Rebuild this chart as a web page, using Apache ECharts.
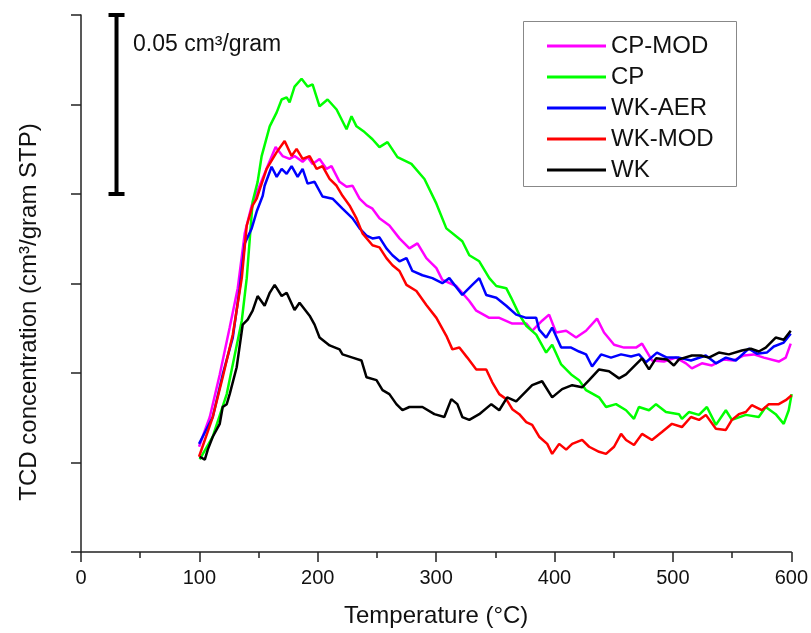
<!DOCTYPE html>
<html>
<head>
<meta charset="utf-8">
<script src="https://cdn.jsdelivr.net/npm/echarts@6.0.0/dist/echarts.min.js"></script>
<style>
  html, body { margin: 0; padding: 0; background: #fff; }
  #chart { width: 811px; height: 633px; }
</style>
</head>
<body>
<div id="chart"></div>
<script>
// TPD curves, [temperature °C, TCD signal in 1e-3 cm3/gram]
var cpModData = [
  [99.7, 29.4], [108.8, 37.7], [117.2, 49.6], [125.6, 62.7], [132.4, 73.7], [138.3, 89.0], [144.2, 96.8],
  [150.9, 102.3], [157.7, 107.8], [164.4, 113.1], [170.3, 110.6], [176.2, 109.8], [180.4, 110.6], [187.2, 109.0],
  [191.4, 110.3], [195.6, 108.4], [201.5, 109.8], [207.4, 107.0], [211.6, 107.8], [218.4, 103.4], [224.3, 102.0],
  [229.4, 102.3], [235.3, 98.7], [241.2, 96.8], [246.2, 95.9], [252.1, 93.2], [260.5, 91.2], [269.0, 87.6],
  [277.4, 84.8], [284.2, 86.2], [291.7, 82.1], [300.2, 79.3], [305.2, 76.0], [317.0, 74.3], [328.0, 70.1],
  [333.9, 67.4], [344.9, 65.4], [353.3, 65.4], [364.3, 63.8], [376.1, 63.8], [381.1, 61.8], [389.5, 64.6],
  [395.4, 66.3], [401.3, 61.3], [409.8, 61.8], [418.2, 59.9], [426.6, 61.8], [435.9, 65.2], [441.8, 61.3],
  [450.3, 57.9], [458.7, 57.1], [468.8, 57.1], [473.9, 58.2], [482.3, 53.5], [492.4, 53.2], [502.5, 54.3],
  [511.0, 52.7], [516.0, 51.3], [524.5, 52.7], [532.9, 52.1], [543.0, 53.8], [551.5, 53.5], [559.9, 54.9],
  [568.3, 55.2], [576.8, 54.3], [589.4, 53.2], [595.3, 54.3], [599.5, 58.2]
];
var cpData = [
  [100.3, 25.9], [111.3, 32.2], [123.1, 44.1], [128.2, 52.4], [135.8, 64.6], [140.0, 76.5], [145.0, 97.9],
  [149.2, 103.4], [152.6, 110.6], [159.4, 118.9], [165.3, 122.8], [169.5, 126.4], [173.7, 127.0], [176.2, 125.6],
  [180.4, 130.0], [186.3, 132.2], [191.4, 130.0], [195.6, 130.6], [201.5, 124.5], [208.3, 126.4], [215.9, 123.6],
  [224.3, 118.1], [228.5, 121.7], [232.7, 118.9], [239.5, 117.3], [246.2, 115.3], [252.1, 113.1], [258.9, 114.5],
  [267.3, 110.3], [279.1, 108.4], [290.1, 104.2], [300.2, 97.3], [308.6, 90.4], [322.1, 86.8], [328.0, 82.9],
  [336.4, 81.2], [344.9, 76.5], [350.8, 74.3], [359.2, 73.7], [363.4, 71.0], [370.2, 66.3], [376.1, 63.2],
  [384.5, 60.7], [392.9, 55.7], [398.0, 57.9], [405.6, 52.4], [414.0, 49.6], [420.7, 48.0], [426.6, 45.2],
  [437.6, 43.2], [443.5, 40.5], [451.9, 41.3], [460.4, 39.6], [467.1, 37.2], [471.3, 40.5], [479.8, 39.6],
  [485.7, 41.3], [494.1, 39.1], [505.1, 38.5], [507.6, 37.2], [513.5, 39.1], [522.0, 38.3], [528.7, 40.5],
  [536.3, 35.5], [544.7, 39.6], [549.8, 36.9], [561.6, 38.3], [572.5, 37.7], [578.4, 40.5], [586.8, 38.5],
  [593.6, 35.8], [597.8, 39.6], [600.3, 44.1]
];
var wkAerData = [
  [99.7, 30.2], [111.3, 37.7], [119.7, 49.6], [128.2, 59.9], [134.1, 73.7], [138.3, 86.2], [144.2, 90.4],
  [148.4, 95.1], [153.5, 99.5], [155.1, 102.3], [161.0, 107.6], [165.3, 104.8], [169.5, 107.0], [173.7, 105.6],
  [177.9, 107.8], [183.0, 104.8], [187.2, 107.0], [191.4, 102.9], [197.3, 103.4], [204.0, 99.3], [212.5, 98.7],
  [220.9, 95.9], [229.4, 93.2], [235.3, 90.4], [241.2, 88.4], [246.2, 87.6], [252.1, 87.9], [258.0, 84.8],
  [263.1, 82.9], [269.0, 81.2], [274.9, 82.1], [279.9, 78.5], [288.4, 77.3], [296.8, 76.5], [305.2, 75.1],
  [311.1, 76.5], [322.1, 71.8], [330.5, 74.6], [336.4, 76.5], [342.3, 71.8], [350.8, 71.0], [359.2, 68.8],
  [367.6, 66.3], [376.1, 65.4], [384.5, 65.4], [387.0, 62.1], [392.9, 59.9], [398.0, 62.7], [405.6, 57.1],
  [414.0, 57.1], [420.7, 56.0], [426.6, 55.2], [431.7, 51.8], [439.3, 55.2], [447.7, 54.3], [456.2, 55.2],
  [464.6, 54.6], [471.3, 55.2], [477.2, 53.0], [486.5, 55.7], [494.9, 54.3], [505.1, 54.3], [515.2, 53.5],
  [527.8, 54.9], [536.3, 52.7], [544.7, 54.3], [553.1, 53.5], [564.1, 56.8], [570.9, 55.4], [579.3, 55.7],
  [585.2, 57.4], [593.6, 58.5], [599.5, 61.0]
];
var wkModData = [
  [99.7, 26.6], [111.3, 37.7], [119.7, 48.8], [128.2, 60.7], [135.8, 76.5], [140.0, 91.2], [145.0, 96.8],
  [148.4, 98.7], [156.8, 107.0], [165.3, 111.7], [172.0, 114.8], [177.9, 110.6], [182.1, 112.6], [187.2, 109.8],
  [193.1, 110.6], [199.0, 107.0], [204.0, 107.8], [210.0, 104.2], [215.9, 102.3], [220.9, 99.5], [226.8, 96.8],
  [232.7, 93.2], [237.8, 89.0], [246.2, 85.7], [252.1, 85.1], [258.0, 82.1], [263.1, 80.1], [269.0, 78.5],
  [274.9, 74.6], [283.3, 72.9], [291.7, 69.0], [300.2, 65.4], [308.6, 60.4], [313.7, 56.6], [319.6, 57.1],
  [326.3, 54.3], [333.9, 51.0], [342.3, 51.0], [347.4, 47.4], [353.3, 44.1], [359.2, 42.7], [364.3, 39.9],
  [370.2, 38.5], [376.1, 36.3], [381.1, 35.5], [387.0, 32.2], [393.8, 30.2], [398.0, 27.4], [403.9, 30.2],
  [409.8, 28.6], [414.9, 30.2], [423.3, 31.3], [429.2, 29.4], [437.6, 28.0], [443.5, 27.4], [450.3, 29.4],
  [456.2, 33.0], [460.4, 31.3], [467.1, 29.9], [473.9, 33.0], [482.3, 31.3], [490.7, 33.5], [499.2, 35.8],
  [507.6, 34.9], [515.2, 37.7], [522.0, 36.9], [527.8, 38.3], [536.3, 34.4], [544.7, 34.1], [549.8, 36.9],
  [555.7, 38.5], [561.6, 39.1], [566.6, 41.0], [575.1, 39.6], [581.0, 41.3], [589.4, 41.3], [595.3, 42.4],
  [600.3, 43.8]
];
var wkData = [
  [100.3, 26.6], [104.6, 25.8], [107.1, 28.6], [111.3, 32.2], [117.2, 35.8], [119.7, 40.5], [123.1, 41.3],
  [125.6, 44.1], [131.5, 51.6], [136.6, 63.5], [140.8, 64.9], [145.0, 67.4], [149.2, 71.5], [155.1, 68.8],
  [159.4, 72.4], [163.6, 74.6], [169.5, 71.5], [173.7, 72.4], [180.4, 67.6], [184.6, 69.6], [193.1, 66.0],
  [197.3, 63.5], [201.5, 59.9], [210.0, 57.7], [218.4, 56.6], [220.9, 55.2], [229.4, 54.3], [236.9, 53.5],
  [241.2, 48.8], [249.6, 48.0], [254.7, 45.2], [260.5, 44.1], [266.4, 41.3], [271.5, 39.6], [277.4, 40.5],
  [288.4, 40.5], [298.5, 38.5], [306.9, 37.7], [312.8, 42.7], [317.9, 41.3], [322.1, 37.7], [328.0, 36.9],
  [336.4, 38.5], [346.6, 41.3], [353.3, 39.6], [360.0, 43.2], [367.6, 42.1], [381.1, 46.6], [389.5, 47.7],
  [398.0, 43.2], [406.4, 45.5], [414.9, 46.6], [423.3, 46.0], [429.2, 48.0], [437.6, 51.0], [446.0, 50.5],
  [454.5, 48.5], [460.4, 49.6], [468.8, 52.4], [473.9, 54.1], [479.8, 51.0], [485.7, 54.1], [494.9, 53.8],
  [500.8, 52.1], [505.1, 53.8], [516.0, 54.9], [523.6, 54.9], [530.4, 54.3], [538.8, 55.7], [547.3, 55.2],
  [558.2, 56.3], [565.8, 56.8], [572.5, 56.0], [578.4, 57.1], [586.8, 59.9], [593.6, 59.3], [599.5, 61.8]
];
// scale bar: 0.05 cm3/gram drawn at 30 °C
var scaleBar = [[30, 100], [30, 150]];

var seriesNames = ['CP-MOD', 'CP', 'WK-AER', 'WK-MOD', 'WK'];
var seriesColors = ['#ff00ff', '#00ff00', '#0000ff', '#ff0000', '#000000'];
var seriesData = [cpModData, cpData, wkAerData, wkModData, wkData];

var font = 'Liberation Sans, Arial, Helvetica, sans-serif';
var chart = echarts.init(document.getElementById('chart'));

var series = seriesNames.map(function (name, i) {
  return {
    name: name,
    type: 'line',
    data: seriesData[i],
    symbol: 'none',
    showSymbol: false,
    animation: false,
    lineStyle: { color: seriesColors[i], width: 2.5 },
    itemStyle: { color: seriesColors[i] }
  };
});
//比例尺
series.push({
  name: 'scale',
  type: 'line',
  data: scaleBar,
  symbol: 'rect',
  symbolSize: [16, 4],
  showSymbol: true,
  clip: false,
  silent: true,
  animation: false,
  lineStyle: { color: '#000', width: 4 },
  itemStyle: { color: '#000' }
});

var option = {
  backgroundColor: '#fff',
  animation: false,
  grid: { left: 81, right: 18, top: 15, bottom: 77 },
  xAxis: {
    type: 'value',
    min: 0,
    max: 600,
    interval: 100,
    axisLine: { lineStyle: { color: '#222', width: 1.5 } },
    axisTick: { inside: false, length: 10, lineStyle: { color: '#222', width: 1.5 } },
    minorTick: { show: true, splitNumber: 2, length: 6, lineStyle: { color: '#222', width: 1.5 } },
    splitLine: { show: false },
    axisLabel: { fontSize: 20, color: '#111', fontFamily: font, margin: 16 },
    name: 'Temperature (°C)',
    nameLocation: 'middle',
    nameGap: 52,
    nameTextStyle: { fontSize: 24, color: '#111', fontFamily: font }
  },
  yAxis: {
    type: 'value',
    min: 0,
    max: 150,
    interval: 25,
    axisLine: { show: true, lineStyle: { color: '#222', width: 1.5 } },
    axisTick: { show: true, inside: false, length: 10, lineStyle: { color: '#222', width: 1.5 } },
    splitLine: { show: false },
    axisLabel: { show: false }
  },
  legend: {
    data: seriesNames,
    orient: 'vertical',
    left: 547,
    top: 34,
    padding: 0,
    itemWidth: 59,
    itemHeight: 3,
    itemGap: 7,
    icon: 'rect',
    textStyle: { fontSize: 24, color: '#111', fontFamily: font, lineHeight: 24 }
  },
  graphic: [
    {
      type: 'rect',
      left: 521,
      top: 19,
      shape: { width: 213, height: 165 },
      style: { fill: 'none', stroke: '#888', lineWidth: 1 }
    },
    {
      type: 'text',
      left: 133,
      top: 33,
      style: { text: '0.05 cm³/gram', fontSize: 23, fill: '#111', fontFamily: font }
    },
    {
      type: 'text',
      x: 29,
      y: 312,
      rotation: Math.PI / 2,
      style: {
        text: 'TCD concentration (cm³/gram STP)',
        fontSize: 24,
        fill: '#111',
        fontFamily: font,
        align: 'center',
        verticalAlign: 'middle'
      }
    }
  ],
  series: series
};
chart.setOption(option);
</script>
</body>
</html>
